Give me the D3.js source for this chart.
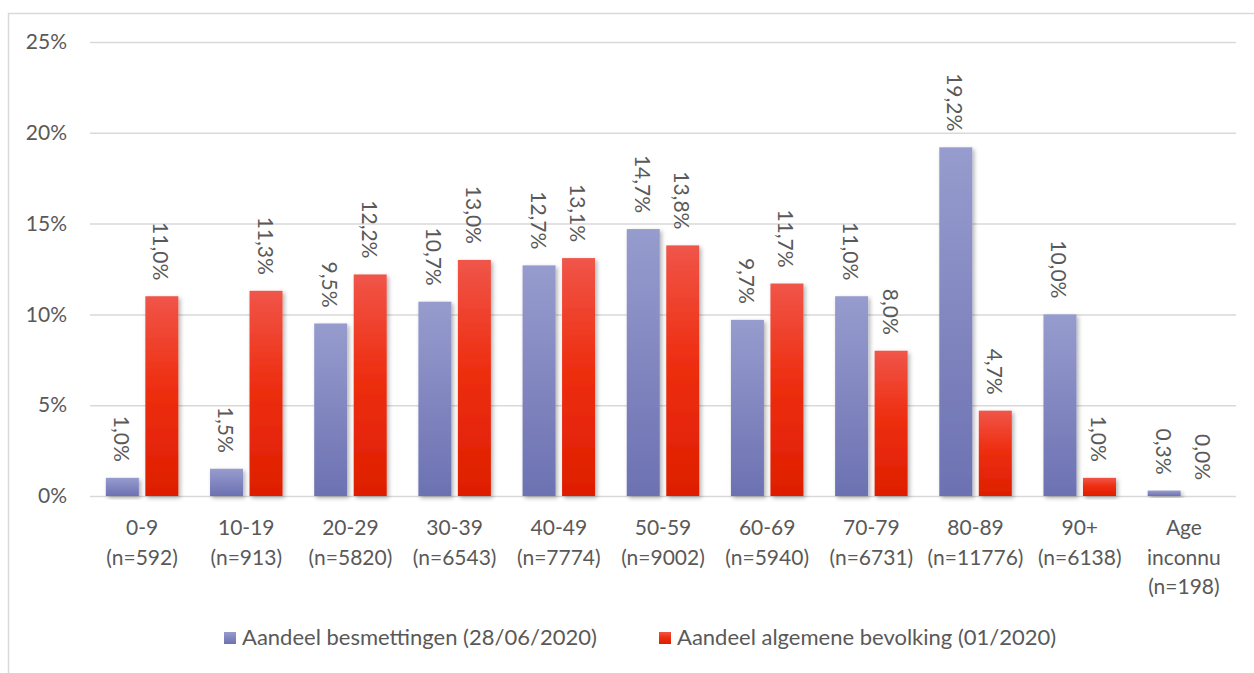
<!DOCTYPE html>
<html><head><meta charset="utf-8">
<script src="https://cdn.jsdelivr.net/npm/d3@7"></script>
<style>html,body{margin:0;padding:0;background:#fff;} svg{display:block;}</style>
</head><body>
<script>
const categories = ["0-9","10-19","20-29","30-39","40-49","50-59","60-69","70-79","80-89","90+","Age"];
const categoryLines = [["0-9","(n=592)"],["10-19","(n=913)"],["20-29","(n=5820)"],["30-39","(n=6543)"],["40-49","(n=7774)"],["50-59","(n=9002)"],["60-69","(n=5940)"],["70-79","(n=6731)"],["80-89","(n=11776)"],["90+","(n=6138)"],["Age","inconnu","(n=198)"]];
const besmettingen = [1.0,1.5,9.5,10.7,12.7,14.7,9.7,11.0,19.2,10.0,0.3];
const bevolking = [11.0,11.3,12.2,13.0,13.1,13.8,11.7,8.0,4.7,1.0,0.0];
const yTicks = [0,5,10,15,20,25];
const seriesNames = ["Aandeel besmettingen (28/06/2020)","Aandeel algemene bevolking (01/2020)"];

const W=1254,H=673;
const FONT="Lato, 'Noto Sans', sans-serif";
const TXT="#595959";
const svg=d3.select("body").append("svg").attr("width",W).attr("height",H);
const defs=svg.append("defs");
const gB=defs.append("linearGradient").attr("id","gB").attr("x1",0).attr("y1",0).attr("x2",0).attr("y2",1);
gB.append("stop").attr("offset","0%").attr("stop-color","#979cce");
gB.append("stop").attr("offset","100%").attr("stop-color","#6c71b2");
const gR=defs.append("linearGradient").attr("id","gR").attr("x1",0).attr("y1",0).attr("x2",0).attr("y2",1);
gR.append("stop").attr("offset","0%").attr("stop-color","#f05549");
gR.append("stop").attr("offset","45%").attr("stop-color","#ee2f12");
gR.append("stop").attr("offset","100%").attr("stop-color","#de1e00");
const f=defs.append("filter").attr("id","sh").attr("x","-30%").attr("y","-10%").attr("width","160%").attr("height","130%");
f.append("feDropShadow").attr("dx",2).attr("dy",2).attr("stdDeviation",2).attr("flood-color","#000").attr("flood-opacity",0.3);

svg.append("rect").attr("x",8.5).attr("y",13.5).attr("width",W).attr("height",H).attr("fill","none").attr("stroke","#d9d9d9").attr("stroke-width",1.5);

const x0=d3.scaleBand().domain(categories).range([90,1236]).paddingInner(0).paddingOuter(0);
const y=d3.scaleLinear().domain([0,25]).range([496,42]);
const barW=33, gap=6.5;

const yAxis=d3.axisLeft(y).tickValues(yTicks).tickFormat(d=>d+"%").tickSize(-(1236-90)).tickPadding(23);
const ga=svg.append("g").attr("transform","translate(90,0)").call(yAxis);
ga.select(".domain").remove();
ga.selectAll(".tick line").attr("stroke","#d9d9d9").attr("stroke-width",1.5);
ga.selectAll(".tick text").attr("fill",TXT).attr("font-family",FONT).attr("font-size",21);

const gb=svg.append("g");
categories.forEach((c,i)=>{
  const cx=x0(c)+x0.bandwidth()/2;
  [[besmettingen[i],"url(#gB)",cx-gap/2-barW],[bevolking[i],"url(#gR)",cx+gap/2]].forEach(([v,fill,xx])=>{
    if(v>0) gb.append("rect").attr("x",xx).attr("y",y(v)).attr("width",barW).attr("height",y(0)-y(v)).attr("fill",fill).attr("filter","url(#sh)");
    const lx=xx+barW/2, ly=y(v)-16;
    gb.append("text").attr("transform",`translate(${lx},${ly}) rotate(90)`).attr("text-anchor","end").attr("dominant-baseline","central")
      .attr("fill",TXT).attr("font-family",FONT).attr("font-size",21).text(v.toFixed(1).replace(".",",")+"%");
  });
  const t=svg.append("text").attr("x",cx).attr("y",535).attr("text-anchor","middle").attr("fill",TXT).attr("font-family",FONT).attr("font-size",21);
  categoryLines[i].forEach((ln,k)=>t.append("tspan").attr("x",cx).attr("dy",k?29.7:0).text(ln));
});

const leg=[{x:224,fill:"url(#gB)",name:seriesNames[0]},{x:659,fill:"url(#gR)",name:seriesNames[1]}];
leg.forEach(l=>{
  svg.append("rect").attr("x",l.x).attr("y",632).attr("width",12).attr("height",12).attr("fill",l.fill);
  svg.append("text").attr("x",l.x+18).attr("y",645).attr("fill",TXT).attr("font-family",FONT).attr("font-size",22).text(l.name);
});
</script>
</body></html>
